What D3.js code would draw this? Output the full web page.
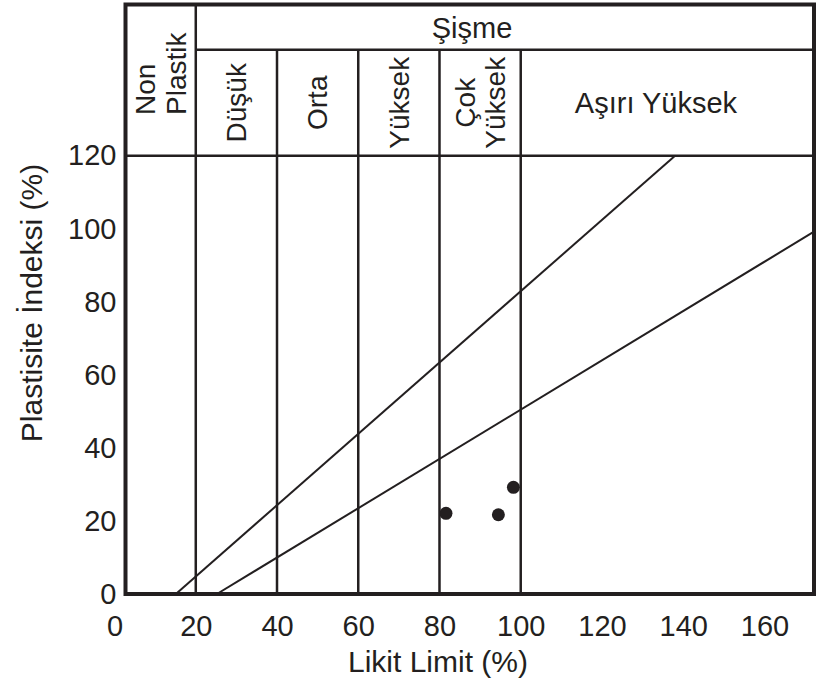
<!DOCTYPE html>
<html lang="tr">
<head>
<meta charset="UTF-8">
<title>Şişme</title>
<script src="https://d3js.org/d3.v7.min.js"></script>
<style>
  body { margin: 0; background: #fff; }
  svg text { font-family: "Liberation Sans", Arial, sans-serif; fill: #231f20; }
</style>
</head>
<body>
<svg id="chart" width="827" height="687"></svg>
<script>
// data
const xTicks = [0, 20, 40, 60, 80, 100, 120, 140, 160];
const yTicks = [0, 20, 40, 60, 80, 100, 120];
const xLimits = [2.7, 172.2];
const yLimits = [0, 161.4];

const classBounds = [20, 40, 60, 80, 100];        // likit limit class borders
const classNames = [
  { name: ["Düşük"], from: 20, to: 40 },
  { name: ["Orta"], from: 40, to: 60 },
  { name: ["Yüksek"], from: 60, to: 80 },
  { name: ["Çok", "Yüksek"], from: 80, to: 100 }
];
const headerTop = 149;   // PI value of the "Şişme" row line
const headerBase = 120;

const lineA = [[15.1, 0], [138, 120]];
const lineB = [[25.2, 0], [172.2, 99.2]];
const samples = [[81.6, 22.1], [94.5, 21.7], [98.2, 29.2]];

const ink = "#231f20";
const svg = d3.select("#chart");

const x = d3.scaleLinear().domain(xLimits).range([125.5, 814]);
const y = d3.scaleLinear().domain(yLimits).range([594, 4.5]);

// header / class lines
const g = svg.append("g").attr("stroke", ink).attr("fill", "none");

g.append("line")
  .attr("x1", x(xLimits[0])).attr("x2", x(xLimits[1]))
  .attr("y1", y(headerBase)).attr("y2", y(headerBase))
  .attr("stroke-width", 2.5);

g.append("line")
  .attr("x1", x(classBounds[0])).attr("x2", x(xLimits[1]))
  .attr("y1", y(headerTop)).attr("y2", y(headerTop))
  .attr("stroke-width", 2.5);

g.selectAll(".bound")
  .data(classBounds)
  .join("line")
  .attr("class", "bound")
  .attr("x1", d => x(d)).attr("x2", d => x(d))
  .attr("y1", (d, i) => i === 0 ? y(yLimits[1]) : y(headerTop))
  .attr("y2", y(0))
  .attr("stroke-width", 2.5);

// diagonal lines
const line = d3.line().x(d => x(d[0])).y(d => y(d[1]));
g.selectAll(".diag")
  .data([lineA, lineB])
  .join("path")
  .attr("class", "diag")
  .attr("d", line)
  .attr("stroke-width", 2);

// outer frame
g.append("rect")
  .attr("x", x(xLimits[0])).attr("y", y(yLimits[1]))
  .attr("width", x(xLimits[1]) - x(xLimits[0]))
  .attr("height", y(0) - y(yLimits[1]))
  .attr("stroke-width", 4);

// samples
svg.selectAll(".pt")
  .data(samples)
  .join("circle")
  .attr("class", "pt")
  .attr("cx", d => x(d[0])).attr("cy", d => y(d[1]))
  .attr("r", 6.5)
  .attr("fill", ink);

// axes (labels only)
const xAxis = svg.append("g")
  .attr("transform", `translate(0,${y(0)})`)
  .call(d3.axisBottom(x).tickValues(xTicks).tickSize(0).tickPadding(21));
const yAxis = svg.append("g")
  .attr("transform", `translate(${x(xLimits[0])},0)`)
  .call(d3.axisLeft(y).tickValues(yTicks).tickSize(0).tickPadding(9));
[xAxis, yAxis].forEach(a => {
  a.select(".domain").remove();
  a.selectAll("text")
    .attr("fill", ink)
    .style("font-size", "29px")
    .style("font-family", '"Liberation Sans", Arial, sans-serif');
});

// axis titles
svg.append("text")
  .attr("x", 438).attr("y", 672)
  .attr("text-anchor", "middle")
  .style("font-size", "30px")
  .text("Likit Limit (%)");

svg.append("text")
  .attr("transform", "translate(42,303) rotate(-90)")
  .attr("text-anchor", "middle")
  .style("font-size", "30px")
  .text("Plastisite İndeksi (%)");

// header texts
svg.append("text")
  .attr("x", x(88)).attr("y", 37.5)
  .attr("text-anchor", "middle")
  .style("font-size", "29px")
  .text("Şişme");

svg.append("text")
  .attr("x", x(133.3)).attr("y", 113)
  .attr("text-anchor", "middle")
  .style("font-size", "29px")
  .text("Aşırı Yüksek");

const midRow = (y(headerTop) + y(headerBase)) / 2;

function rotated(lines, cx, cy, anchor) {
  const t = svg.append("text")
    .attr("transform", `translate(${cx},${cy}) rotate(-90)`)
    .attr("text-anchor", anchor)
    .style("font-size", "28px");
  const n = lines.length;
  lines.forEach((s, i) => {
    t.append("tspan")
      .attr("x", 0)
      .attr("dy", i === 0 ? `${0.35 - (n - 1) * 0.55}em` : "1.1em")
      .text(s);
  });
}

rotated(["Non", "Plastik"], (x(xLimits[0]) + x(20)) / 2, 115, "start");
classNames.forEach(c => {
  rotated(c.name, (x(c.from) + x(c.to)) / 2, midRow, "middle");
});
</script>
</body>
</html>
